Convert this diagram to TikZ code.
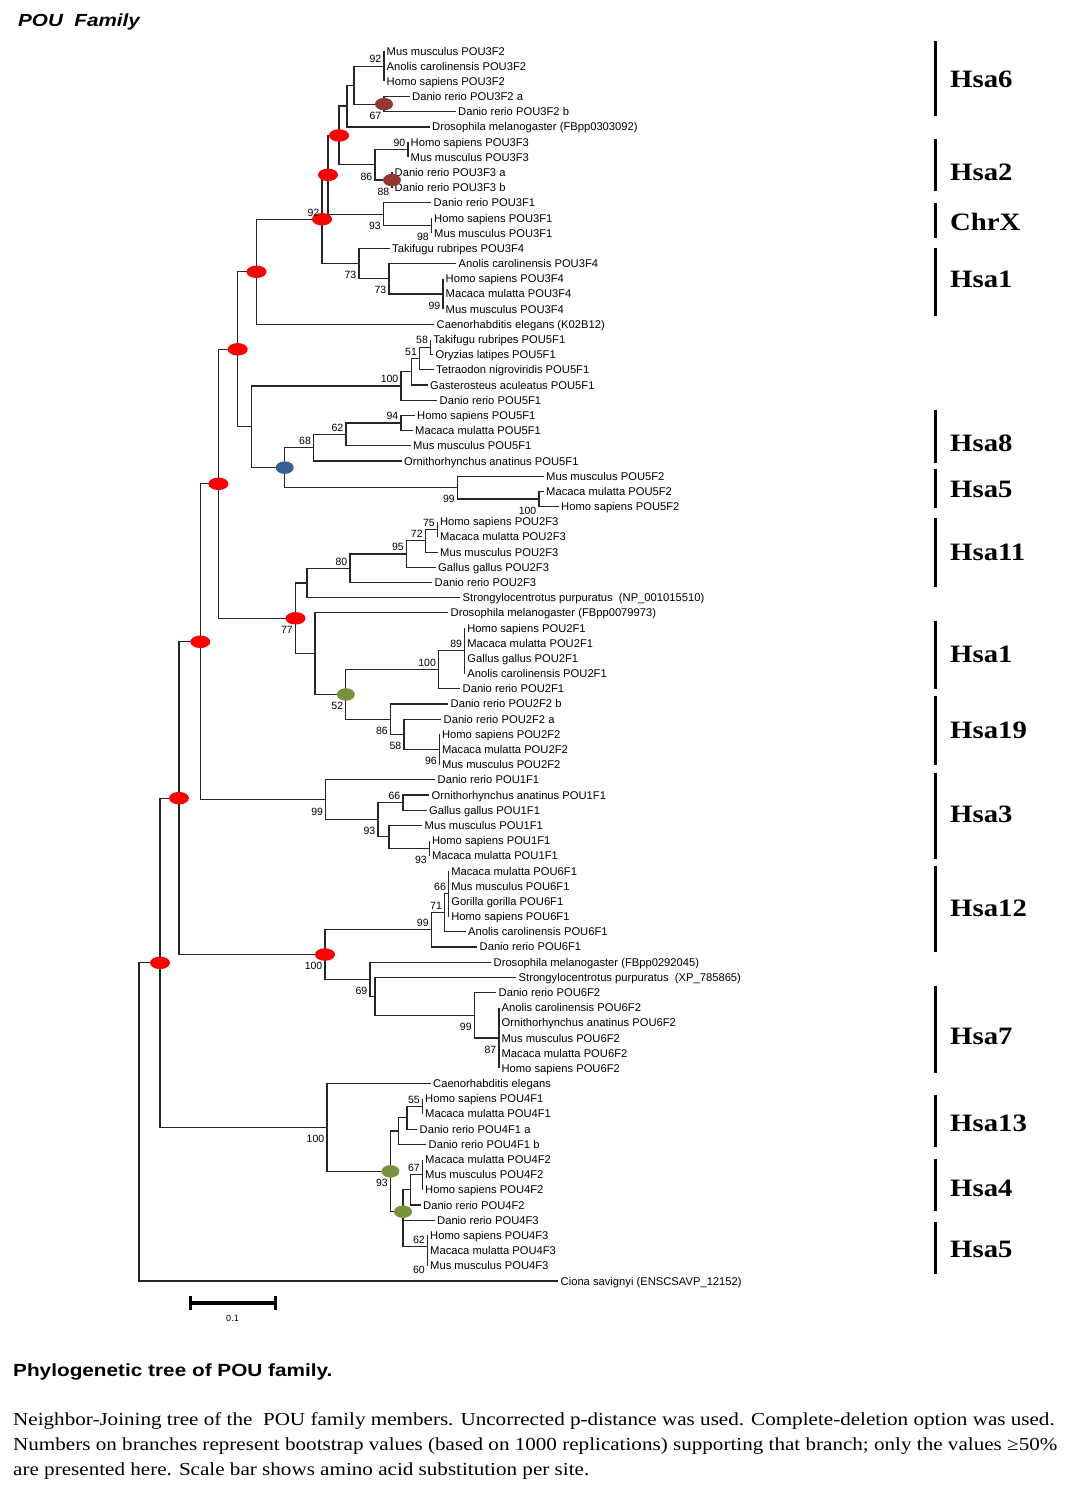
\documentclass[tikz,border=0pt]{standalone}
\usepackage{xcolor}
\usepackage{fontspec}
\setmainfont{Liberation Sans}
\newfontfamily\widesans{Liberation Sans}[FakeStretch=1.18]
\newfontfamily\capserif{Liberation Serif}[FakeStretch=1.15]
\usetikzlibrary{shapes.geometric}

\definecolor{dupred}{RGB}{255,0,0}
\definecolor{dupbrown}{RGB}{149,55,53}
\definecolor{dupblue}{RGB}{55,96,146}
\definecolor{dupgreen}{RGB}{119,147,60}

\begin{document}
\begin{tikzpicture}[x=1pt,y=-1pt]
	\tikzstyle{leaf} = [anchor=west, inner sep=2.5pt, font=\fontsize{11.2}{11.2}\selectfont, text height=8pt, text depth=0pt]
	\tikzstyle{boot} = [inner sep=0.5pt, xshift=-2pt, font=\fontsize{10.5}{10.5}\selectfont, text height=7.5pt, text depth=0pt]
	\tikzstyle{bootup} = [boot, anchor=south east, yshift=2.5pt]
	\tikzstyle{bootdown} = [boot, anchor=north east, yshift=-7pt]
	\tikzstyle{spot} = [ellipse, minimum width=18pt, minimum height=12.5pt, inner sep=0pt]
	\tikzstyle{redspot} = [spot, fill=dupred, minimum width=20pt]
	\tikzstyle{chrom} = [anchor=west, inner sep=0pt, font=\capserif\bfseries\fontsize{25}{25}\selectfont, text height=16.5pt, text depth=0pt]
	\tikzset{branch/.style = {line width=1.2pt, black!85}}
	\tikzset{chrbar/.style = {line width=3.5pt}}

	\fill[white] (0,0) rectangle (1068,1494);
	\useasboundingbox (0,0) rectangle (1068,1494);

	% title
	\node[anchor=base west, inner sep=0pt, font=\widesans\bfseries\itshape\fontsize{17.5}{17.5}\selectfont] (family) at (18,26.5) {POU\ \ Family};

	\begin{scope}[shift={(0,35.815)}, y=-15.185pt]
	% POU3 leaves
	\node[leaf] (l01) at (384,1) {Mus musculus POU3F2};
	\node[leaf] (l02) at (384,2) {Anolis carolinensis POU3F2};
	\node[leaf] (l03) at (384,3) {Homo sapiens POU3F2};
	\node[leaf] (l04) at (409.5,4) {Danio rerio POU3F2 a};
	\node[leaf] (l05) at (455.5,5) {Danio rerio POU3F2 b};
	\node[leaf] (l06) at (429.5,6) {Drosophila melanogaster (FBpp0303092)};
	\node[leaf] (l07) at (408,7) {Homo sapiens POU3F3};
	\node[leaf] (l08) at (408,8) {Mus musculus POU3F3};
	\node[leaf] (l09) at (392,9) {Danio rerio POU3F3 a};
	\node[leaf] (l10) at (392,10) {Danio rerio POU3F3 b};
	\node[leaf] (l11) at (431,11) {Danio rerio POU3F1};
	\node[leaf] (l12) at (431.5,12) {Homo sapiens POU3F1};
	\node[leaf] (l13) at (431.5,13) {Mus musculus POU3F1};
	\node[leaf] (l14) at (389.5,14) {Takifugu rubripes POU3F4};
	\node[leaf] (l15) at (456,15) {Anolis carolinensis POU3F4};
	\node[leaf] (l16) at (443,16) {Homo sapiens POU3F4};
	\node[leaf] (l17) at (443,17) {Macaca mulatta POU3F4};
	\node[leaf] (l18) at (443,18) {Mus musculus POU3F4};
	\node[leaf] (l19) at (434,19) {Caenorhabditis elegans (K02B12)};

	% POU5 leaves
	\node[leaf] (l20) at (430.6,20) {Takifugu rubripes POU5F1};
	\node[leaf] (l21) at (433,21) {Oryzias latipes POU5F1};
	\node[leaf] (l22) at (433.5,22) {Tetraodon nigroviridis POU5F1};
	\node[leaf] (l23) at (427.5,23) {Gasterosteus aculeatus POU5F1};
	\node[leaf] (l24) at (437,24) {Danio rerio POU5F1};
	\node[leaf] (l25) at (414.5,25) {Homo sapiens POU5F1};
	\node[leaf] (l26) at (412.5,26) {Macaca mulatta POU5F1};
	\node[leaf] (l27) at (410.5,27) {Mus musculus POU5F1};
	\node[leaf] (l28) at (401.5,28) {Ornithorhynchus anatinus POU5F1};
	\node[leaf] (l29) at (543.5,29) {Mus musculus POU5F2};
	\node[leaf] (l30) at (543.5,30) {Macaca mulatta POU5F2};
	\node[leaf] (l31) at (558.5,31) {Homo sapiens POU5F2};

	% POU2 leaves
	\node[leaf] (l32) at (437.4,32) {Homo sapiens POU2F3};
	\node[leaf] (l33) at (437.4,33) {Macaca mulatta POU2F3};
	\node[leaf] (l34) at (437.5,34) {Mus musculus POU2F3};
	\node[leaf] (l35) at (435.5,35) {Gallus gallus POU2F3};
	\node[leaf] (l36) at (432,36) {Danio rerio POU2F3};
	\node[leaf] (l37) at (460,37) {Strongylocentrotus purpuratus\ \ (NP\_001015510)};
	\node[leaf] (l38) at (448,38) {Drosophila melanogaster (FBpp0079973)};
	\node[leaf] (l39) at (464.7,39) {Homo sapiens POU2F1};
	\node[leaf] (l40) at (464.7,40) {Macaca mulatta POU2F1};
	\node[leaf] (l41) at (464.7,41) {Gallus gallus POU2F1};
	\node[leaf] (l42) at (464.7,42) {Anolis carolinensis POU2F1};
	\node[leaf] (l43) at (460,43) {Danio rerio POU2F1};
	\node[leaf] (l44) at (448,44) {Danio rerio POU2F2 b};
	\node[leaf] (l45) at (441,45) {Danio rerio POU2F2 a};
	\node[leaf] (l46) at (439.4,46) {Homo sapiens POU2F2};
	\node[leaf] (l47) at (439.4,47) {Macaca mulatta POU2F2};
	\node[leaf] (l48) at (439.4,48) {Mus musculus POU2F2};

	% POU1 leaves
	\node[leaf] (l49) at (435,49) {Danio rerio POU1F1};
	\node[leaf] (l50) at (429,50) {Ornithorhynchus anatinus POU1F1};
	\node[leaf] (l51) at (426.5,51) {Gallus gallus POU1F1};
	\node[leaf] (l52) at (422,52) {Mus musculus POU1F1};
	\node[leaf] (l53) at (429.4,53) {Homo sapiens POU1F1};
	\node[leaf] (l54) at (429.4,54) {Macaca mulatta POU1F1};

	% POU6 leaves
	\node[leaf] (l55) at (448.6,55) {Macaca mulatta POU6F1};
	\node[leaf] (l56) at (448.6,56) {Mus musculus POU6F1};
	\node[leaf] (l57) at (448.6,57) {Gorilla gorilla POU6F1};
	\node[leaf] (l58) at (448.6,58) {Homo sapiens POU6F1};
	\node[leaf] (l59) at (465.5,59) {Anolis carolinensis POU6F1};
	\node[leaf] (l60) at (477,60) {Danio rerio POU6F1};
	\node[leaf] (l61) at (491,61) {Drosophila melanogaster (FBpp0292045)};
	\node[leaf] (l62) at (516,62) {Strongylocentrotus purpuratus\ \ (XP\_785865)};
	\node[leaf] (l63) at (496,63) {Danio rerio POU6F2};
	\node[leaf] (l64) at (498.9,64) {Anolis carolinensis POU6F2};
	\node[leaf] (l65) at (498.9,65) {Ornithorhynchus anatinus POU6F2};
	\node[leaf] (l66) at (498.9,66) {Mus musculus POU6F2};
	\node[leaf] (l67) at (498.9,67) {Macaca mulatta POU6F2};
	\node[leaf] (l68) at (498.9,68) {Homo sapiens POU6F2};

	% POU4 leaves
	\node[leaf] (l69) at (430.5,69) {Caenorhabditis elegans};
	\node[leaf] (l70) at (422.5,70) {Homo sapiens POU4F1};
	\node[leaf] (l71) at (422.5,71) {Macaca mulatta POU4F1};
	\node[leaf] (l72) at (417,72) {Danio rerio POU4F1 a};
	\node[leaf] (l73) at (426,73) {Danio rerio POU4F1 b};
	\node[leaf] (l74) at (422.5,74) {Macaca mulatta POU4F2};
	\node[leaf] (l75) at (422.5,75) {Mus musculus POU4F2};
	\node[leaf] (l76) at (422.5,76) {Homo sapiens POU4F2};
	\node[leaf] (l77) at (420.5,77) {Danio rerio POU4F2};
	\node[leaf] (l78) at (434.5,78) {Danio rerio POU4F3};
	\node[leaf] (l79) at (427.5,79) {Homo sapiens POU4F3};
	\node[leaf] (l80) at (427.5,80) {Macaca mulatta POU4F3};
	\node[leaf] (l81) at (427.5,81) {Mus musculus POU4F3};

	% outgroup
	\node[leaf] (l82) at (558,82) {Ciona savignyi (ENSCSAVP\_12152)};

	% inner nodes, POU3
	\coordinate (n1) at (384,2);
	\coordinate (n2) at (384,4.5);
	\coordinate (A) at (354,3.25);
	\coordinate (B) at (347,4.625);
	\coordinate (n3) at (408,7.5);
	\coordinate (n4) at (392,9.5);
	\coordinate (D) at (375,8.5);
	\coordinate (C) at (339,6.5625);
	\coordinate (n5) at (431.5,12.5);
	\coordinate (n6) at (383.5,11.75);
	\coordinate (E) at (328,9.15625);
	\coordinate (n7) at (443,17);
	\coordinate (H) at (389,16);
	\coordinate (G) at (359,15);
	\coordinate (F) at (322,12.078);
	\coordinate (I) at (256.5,15.539);

	% inner nodes, POU5
	\coordinate (O) at (430.6,20.5);
	\coordinate (N) at (419.6,21.25);
	\coordinate (M) at (411.6,22.125);
	\coordinate (L) at (401,23.0625);
	\coordinate (S) at (401,25.5);
	\coordinate (R) at (346,26.25);
	\coordinate (Q) at (313.6,27.125);
	\coordinate (U) at (539,30.5);
	\coordinate (T) at (457.5,29.75);
	\coordinate (P) at (284.7,28.4375);
	\coordinate (K) at (251.5,25.75);
	\coordinate (J) at (237.7,20.645);

	% inner nodes, POU2
	\coordinate (AB) at (437.4,32.5);
	\coordinate (AA) at (425.3,33.25);
	\coordinate (Z) at (406.5,34.125);
	\coordinate (Y) at (350,35.0625);
	\coordinate (X) at (307,36.031);
	\coordinate (AF) at (464.7,40.5);
	\coordinate (AE) at (438.6,41.75);
	\coordinate (AI) at (439.4,47);
	\coordinate (AH) at (404,46);
	\coordinate (AG) at (390.4,45);
	\coordinate (AD) at (345.8,43.375);
	\coordinate (AC) at (315,40.6875);
	\coordinate (W) at (295.5,38.359);
	\coordinate (V) at (218.4,29.502);

	% inner nodes, POU1
	\coordinate (AM) at (403,50.5);
	\coordinate (AO) at (429.4,53.5);
	\coordinate (AN) at (389,52.75);
	\coordinate (AL) at (378,51.625);
	\coordinate (AJ) at (325.7,50.3125);
	\coordinate (AK) at (200.3,39.907);

	% inner nodes, POU6
	\coordinate (AT) at (448.6,56.5);
	\coordinate (AS) at (444.6,57.75);
	\coordinate (AR) at (431.3,58.875);
	\coordinate (AX) at (498.9,66);
	\coordinate (AW) at (474.3,64.5);
	\coordinate (AV) at (375,63.25);
	\coordinate (AU) at (370,62.125);
	\coordinate (AP) at (325,60.5);
	\coordinate (AQ) at (179,50.2035);

	% inner nodes, POU4 and root
	\coordinate (BC) at (422.5,70.5);
	\coordinate (BB) at (407,71.25);
	\coordinate (BA) at (398.5,72.125);
	\coordinate (BEp) at (422.5,75);
	\coordinate (BE) at (410.4,76);
	\coordinate (BG) at (427.5,80.5);
	\coordinate (BH) at (427.5,79.75);
	\coordinate (BF) at (403,78.875);
	\coordinate (BD) at (403,77.4375);
	\coordinate (AZ) at (390.4,74.78125);
	\coordinate (AY) at (326.9,71.890625);
	\coordinate (BI) at (160,61.047);
	\coordinate (root) at (139,71.52);

	% branches, POU3
	\draw[branch] (n1) |- (l01.west) (n1) |- (l02.west) (n1) |- (l03.west);
	\draw[branch] (n2) |- (l04.west) (n2) |- (l05.west);
	\draw[branch] (A) |- (n1) (A) |- (n2);
	\draw[branch] (B) |- (A) (B) |- (l06.west);
	\draw[branch] (n3) |- (l07.west) (n3) |- (l08.west);
	\draw[branch] (n4) |- (l09.west) (n4) |- (l10.west);
	\draw[branch] (D) |- (n3) (D) |- (n4);
	\draw[branch] (C) |- (B) (C) |- (D);
	\draw[branch] (n5) |- (l12.west) (n5) |- (l13.west);
	\draw[branch] (n6) |- (l11.west) (n6) |- (n5);
	\draw[branch] (E) |- (C) (E) |- (n6);
	\draw[branch] (n7) |- (l16.west) (n7) |- (l17.west) (n7) |- (l18.west);
	\draw[branch] (H) |- (l15.west) (H) |- (n7);
	\draw[branch] (G) |- (l14.west) (G) |- (H);
	\draw[branch] (F) |- (E) (F) |- (G);
	\draw[branch] (I) |- (F) (I) |- (l19.west);

	% branches, POU5
	\draw[branch] (O) |- (l20.west) (O) |- (l21.west);
	\draw[branch] (N) |- (O) (N) |- (l22.west);
	\draw[branch] (M) |- (N) (M) |- (l23.west);
	\draw[branch] (L) |- (M) (L) |- (l24.west);
	\draw[branch] (S) |- (l25.west) (S) |- (l26.west);
	\draw[branch] (R) |- (S) (R) |- (l27.west);
	\draw[branch] (Q) |- (R) (Q) |- (l28.west);
	\draw[branch] (U) |- (l30.west) (U) |- (l31.west);
	\draw[branch] (T) |- (l29.west) (T) |- (U);
	\draw[branch] (P) |- (Q) (P) |- (T);
	\draw[branch] (K) |- (L) (K) |- (P);
	\draw[branch] (J) |- (I) (J) |- (K);

	% branches, POU2
	\draw[branch] (AB) |- (l32.west) (AB) |- (l33.west);
	\draw[branch] (AA) |- (AB) (AA) |- (l34.west);
	\draw[branch] (Z) |- (AA) (Z) |- (l35.west);
	\draw[branch] (Y) |- (Z) (Y) |- (l36.west);
	\draw[branch] (X) |- (Y) (X) |- (l37.west);
	\draw[branch] (AF) |- (l39.west) (AF) |- (l40.west) (AF) |- (l41.west) (AF) |- (l42.west);
	\draw[branch] (AE) |- (AF) (AE) |- (l43.west);
	\draw[branch] (AI) |- (l46.west) (AI) |- (l47.west) (AI) |- (l48.west);
	\draw[branch] (AH) |- (l45.west) (AH) |- (AI);
	\draw[branch] (AG) |- (l44.west) (AG) |- (AH);
	\draw[branch] (AD) |- (AE) (AD) |- (AG);
	\draw[branch] (AC) |- (l38.west) (AC) |- (AD);
	\draw[branch] (W) |- (X) (W) |- (AC);
	\draw[branch] (V) |- (J) (V) |- (W);

	% branches, POU1
	\draw[branch] (AM) |- (l50.west) (AM) |- (l51.west);
	\draw[branch] (AO) |- (l53.west) (AO) |- (l54.west);
	\draw[branch] (AN) |- (l52.west) (AN) |- (AO);
	\draw[branch] (AL) |- (AM) (AL) |- (AN);
	\draw[branch] (AJ) |- (l49.west) (AJ) |- (AL);
	\draw[branch] (AK) |- (V) (AK) |- (AJ);

	% branches, POU6
	\draw[branch] (AT) |- (l55.west) (AT) |- (l56.west) (AT) |- (l57.west) (AT) |- (l58.west);
	\draw[branch] (AS) |- (AT) (AS) |- (l59.west);
	\draw[branch] (AR) |- (AS) (AR) |- (l60.west);
	\draw[branch] (AX) |- (l64.west) (AX) |- (l65.west) (AX) |- (l66.west) (AX) |- (l67.west) (AX) |- (l68.west);
	\draw[branch] (AW) |- (l63.west) (AW) |- (AX);
	\draw[branch] (AV) |- (l62.west) (AV) |- (AW);
	\draw[branch] (AU) |- (l61.west) (AU) |- (AV);
	\draw[branch] (AP) |- (AR) (AP) |- (AU);
	\draw[branch] (AQ) |- (AK) (AQ) |- (AP);

	% branches, POU4 and root
	\draw[branch] (BC) |- (l70.west) (BC) |- (l71.west);
	\draw[branch] (BB) |- (BC) (BB) |- (l72.west);
	\draw[branch] (BA) |- (BB) (BA) |- (l73.west);
	\draw[branch] (BEp) |- (l74.west) (BEp) |- (l75.west) (BEp) |- (l76.west);
	\draw[branch] (BE) |- (BEp) (BE) |- (l77.west);
	\draw[branch] (BG) |- (l80.west) (BG) |- (l81.west);
	\draw[branch] (BH) |- (l79.west) (BH) |- (BG);
	\draw[branch] (BF) |- (l78.west) (BF) |- (BH);
	\draw[branch] (BD) |- (BE) (BD) |- (BF);
	\draw[branch] (AZ) |- (BA) (AZ) |- (BD);
	\draw[branch] (AY) |- (l69.west) (AY) |- (AZ);
	\draw[branch] (BI) |- (AQ) (BI) |- (AY);
	\draw[branch] (root) |- (BI) (root) |- (l82.west);
	\end{scope}

	% duplication marks
	\node[redspot] (sC) at (C) {};
	\node[redspot] (sE) at (E) {};
	\node[redspot] (sF) at (F) {};
	\node[redspot] (sI) at (I) {};
	\node[redspot] (sJ) at (J) {};
	\node[redspot] (sV) at (V) {};
	\node[redspot] (sW) at (W) {};
	\node[redspot] (sAK) at (AK) {};
	\node[redspot] (sAQ) at (AQ) {};
	\node[redspot] (sAP) at (AP) {};
	\node[redspot] (sBI) at (BI) {};
	\node[spot, fill=dupbrown] (sn2) at (n2) {};
	\node[spot, fill=dupbrown] (sn4) at (n4) {};
	\node[spot, fill=dupblue] (sP) at (P) {};
	\node[spot, fill=dupgreen] (sAD) at (AD) {};
	\node[spot, fill=dupgreen] (sAZ) at (AZ) {};
	\node[spot, fill=dupgreen] (sBD) at (BD) {};

	% bootstrap values
	\node[bootup] (bn1) at (n1) {92};
	\node[bootdown] (bn2) at (n2) {67};
	\node[bootup] (bn3) at (n3) {90};
	\node[bootdown] (bD) at (D) {86};
	\node[bootdown] (bn4) at (n4) {88};
	\node[bootup] (bF) at (F) {92};
	\node[bootdown] (bn6) at (n6) {93};
	\node[bootdown] (bn5) at (n5) {98};
	\node[bootdown] (bG) at (G) {73};
	\node[bootdown] (bH) at (H) {73};
	\node[bootdown] (bn7) at (n7) {99};
	\node[bootup] (bO) at (O) {58};
	\node[bootup] (bN) at (N) {51};
	\node[bootup] (bL) at (L) {100};
	\node[bootup] (bS) at (S) {94};
	\node[bootup] (bR) at (R) {62};
	\node[bootup] (bQ) at (Q) {68};
	\node[bootdown] (bT) at (T) {99};
	\node[bootdown] (bU) at (U) {100};
	\node[bootup] (bAB) at (AB) {75};
	\node[bootup] (bAA) at (AA) {72};
	\node[bootup] (bZ) at (Z) {95};
	\node[bootup] (bY) at (Y) {80};
	\node[bootdown] (bW) at (W) {77};
	\node[bootup] (bAF) at (AF) {89};
	\node[bootup] (bAE) at (AE) {100};
	\node[bootdown] (bAD) at (AD) {52};
	\node[bootdown] (bAG) at (AG) {86};
	\node[bootdown] (bAH) at (AH) {58};
	\node[bootdown] (bAI) at (AI) {96};
	\node[bootup] (bAM) at (AM) {66};
	\node[bootdown] (bAJ) at (AJ) {99};
	\node[bootdown] (bAL) at (AL) {93};
	\node[bootdown] (bAO) at (AO) {93};
	\node[bootup] (bAT) at (AT) {66};
	\node[bootup] (bAS) at (AS) {71};
	\node[bootup] (bAR) at (AR) {99};
	\node[bootdown] (bAP) at (AP) {100};
	\node[bootdown] (bAU) at (AU) {69};
	\node[bootdown] (bAW) at (AW) {99};
	\node[bootdown] (bAX) at (AX) {87};
	\node[bootup] (bBC) at (BC) {55};
	\node[bootdown] (bAY) at (AY) {100};
	\node[bootdown] (bAZ) at (AZ) {93};
	\node[bootup] (bBEp) at (BEp) {67};
	\node[bootup] (bBH) at (BH) {62};
	\node[bootdown] (bBG) at (BG) {60};

	% scale bar
	\coordinate (sb0) at (190,1303);
	\coordinate (sb1) at (275,1303);
	\draw[line width=3.5pt] (sb0) -- (sb1);
	\draw[line width=3pt] ([yshift=7pt]sb0) -- ([yshift=-7pt]sb0);
	\draw[line width=3pt] ([yshift=7pt]sb1) -- ([yshift=-7pt]sb1);
	\node[font=\fontsize{9}{9}\selectfont] (sbtext) at (232.5,1318) {0.1};

	% chromosomes
	\draw[chrbar] (935.5,41) -- (935.5,116);
	\node[chrom] (hsa6) at (950,79) {Hsa6};
	\draw[chrbar] (935.5,139) -- (935.5,191);
	\node[chrom] (hsa2) at (950,172) {Hsa2};
	\draw[chrbar] (935.5,203) -- (935.5,238);
	\node[chrom] (chrX) at (950,222) {ChrX};
	\draw[chrbar] (935.5,248) -- (935.5,316);
	\node[chrom] (hsa1a) at (950,279) {Hsa1};
	\draw[chrbar] (935.5,410) -- (935.5,463);
	\node[chrom] (hsa8) at (950,443) {Hsa8};
	\draw[chrbar] (935.5,469) -- (935.5,508);
	\node[chrom] (hsa5a) at (950,489) {Hsa5};
	\draw[chrbar] (935.5,518) -- (935.5,587);
	\node[chrom] (hsa11) at (950,552) {Hsa11};
	\draw[chrbar] (935.5,621) -- (935.5,689);
	\node[chrom] (hsa1b) at (950,654) {Hsa1};
	\draw[chrbar] (935.5,696) -- (935.5,765);
	\node[chrom] (hsa19) at (950,730) {Hsa19};
	\draw[chrbar] (935.5,773) -- (935.5,859);
	\node[chrom] (hsa3) at (950,814) {Hsa3};
	\draw[chrbar] (935.5,866) -- (935.5,952);
	\node[chrom] (hsa12) at (950,908) {Hsa12};
	\draw[chrbar] (935.5,986) -- (935.5,1073);
	\node[chrom] (hsa7) at (950,1036) {Hsa7};
	\draw[chrbar] (935.5,1095) -- (935.5,1147);
	\node[chrom] (hsa13) at (950,1123) {Hsa13};
	\draw[chrbar] (935.5,1159) -- (935.5,1211);
	\node[chrom] (hsa4) at (950,1188) {Hsa4};
	\draw[chrbar] (935.5,1222) -- (935.5,1274);
	\node[chrom] (hsa5b) at (950,1249) {Hsa5};

	% caption
	\node[anchor=base west, inner sep=0pt, font=\widesans\bfseries\fontsize{17.6}{17.6}\selectfont] (captitle) at (13,1376) {Phylogenetic tree of POU family.};
	\node[anchor=base west, inner sep=0pt, font=\capserif\fontsize{18.35}{18.35}\selectfont] (cap1) at (13,1425) {Neighbor-Joining tree of the\ \ POU family members. Uncorrected p-distance was used. Complete-deletion option was used.};
	\node[anchor=base west, inner sep=0pt, font=\capserif\fontsize{18.35}{18.35}\selectfont] (cap2) at (13,1450) {Numbers on branches represent bootstrap values (based on 1000 replications) supporting that branch; only the values ≥50\%};
	\node[anchor=base west, inner sep=0pt, font=\capserif\fontsize{18.35}{18.35}\selectfont] (cap3) at (13,1475) {are presented here. Scale bar shows amino acid substitution per site.};
\end{tikzpicture}
\end{document}
